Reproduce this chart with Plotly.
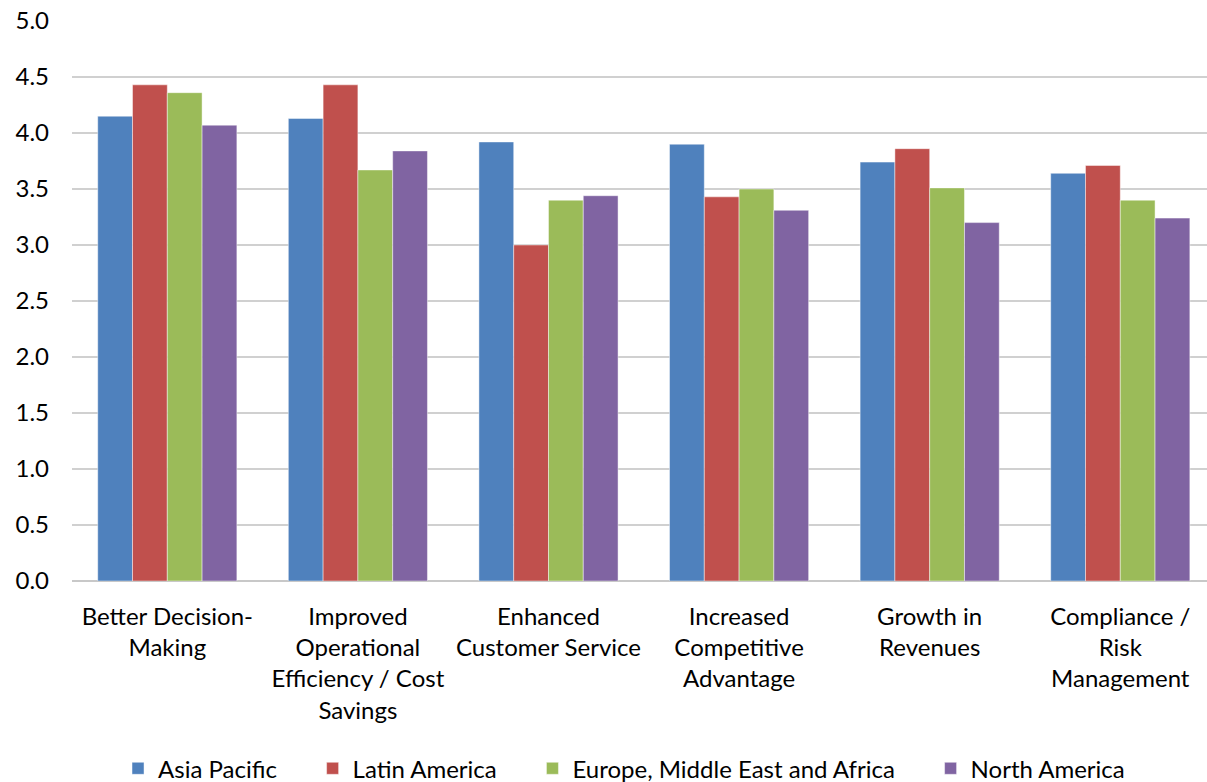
import plotly.graph_objects as go

categories = [
    "Better Decision-<br>Making",
    "Improved<br>Operational<br>Efficiency / Cost<br>Savings",
    "Enhanced<br>Customer Service",
    "Increased<br>Competitive<br>Advantage",
    "Growth in<br>Revenues",
    "Compliance /<br>Risk<br>Management",
]
asia_pacific = [4.15, 4.13, 3.92, 3.90, 3.74, 3.64]
latin_america = [4.43, 4.43, 3.00, 3.43, 3.86, 3.71]
emea = [4.36, 3.67, 3.40, 3.50, 3.51, 3.40]
north_america = [4.07, 3.84, 3.44, 3.31, 3.20, 3.24]

series = [
    ("Asia Pacific", asia_pacific, "#4F81BD"),
    ("Latin America", latin_america, "#C0504D"),
    ("Europe, Middle East and Africa", emea, "#9BBB59"),
    ("North America", north_america, "#8064A2"),
]

FONT = "Lato, Noto Sans, sans-serif"
PAD = "\u00a0" * 5

fig = go.Figure()
for i, (name, vals, col) in enumerate(series):
    fig.add_trace(go.Bar(
        x=list(range(len(categories))), y=vals,
        name=name + (PAD if i < len(series) - 1 else ""),
        marker=dict(color=col, line=dict(color="rgba(255,255,255,0.45)", width=1)),
    ))

fig.update_layout(
    width=1207, height=782,
    margin=dict(l=72, r=0, t=21, b=201),
    paper_bgcolor="white", plot_bgcolor="white",
    barmode="group", bargap=0.27, bargroupgap=0,
    font=dict(family=FONT, size=24, color="black"),
    legend=dict(
        orientation="h", xref="container", yref="container",
        x=0.517, xanchor="center", y=0.017, yanchor="middle",
        font=dict(size=24), itemwidth=30, traceorder="normal",
    ),
    xaxis=dict(
        tickmode="array", tickvals=list(range(len(categories))), ticktext=categories,
        range=[-0.5, 5.455], showgrid=False, zeroline=False,
        showline=False, ticks="", tickfont=dict(size=24), ticklabelstandoff=19,
    ),
    yaxis=dict(
        range=[0, 5], dtick=0.5, tickformat=".1f",
        showgrid=True, gridcolor="#D0D0D0", gridwidth=1.5,
        zeroline=True, zerolinecolor="#C8C8C8", zerolinewidth=1.5,
        showline=False, ticks="", ticklabelstandoff=22, tickfont=dict(size=24),
    ),
)

fig.write_html("out.html")
